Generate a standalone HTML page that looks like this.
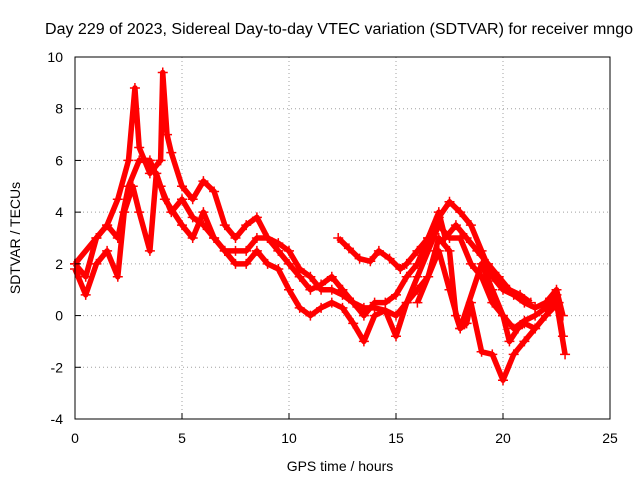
<!DOCTYPE html>
<html><head><meta charset="utf-8"><style>
html,body{margin:0;padding:0;background:#fff;}
svg{display:block;font-family:"Liberation Sans",sans-serif;}
</style></head><body>
<svg id="chart" width="640" height="480" viewBox="0 0 640 480" xmlns="http://www.w3.org/2000/svg">
<rect width="640" height="480" fill="#fff"/>
<text x="339" y="34" font-size="15.5" text-anchor="middle" textLength="588" lengthAdjust="spacingAndGlyphs">Day 229 of 2023, Sidereal Day-to-day VTEC variation (SDTVAR) for receiver mngo</text>
<g id="grid"></g>
<g id="series"></g>
<g id="axes"></g>
<text x="340" y="471" font-size="14" text-anchor="middle">GPS time / hours</text>
<text x="20" y="238" font-size="14" text-anchor="middle" transform="rotate(-90 20 238)">SDTVAR / TECUs</text>
</svg>
<script>
const xTicks = [0,5,10,15,20,25];
const yTicks = [-4,-2,0,2,4,6,8,10];
const trackATime = [0,0.5,1,1.5,2,2.5,2.8,3,3.5,4,4.1,4.3,4.5,5,5.5,6,6.5,7,7.5,8,8.5,9,9.5,10,10.5,11,11.5,12,12.5,13,13.5,14,14.5,15,15.5,16,16.5,17,17.5,18,18.5,19,19.5,20,20.5,21,21.5,22,22.5,22.8];
const trackAVal = [2,1.5,3,3.5,4.5,6,8.8,6.5,5.5,6,9.4,7,6.3,5,4.5,5.2,4.8,3.5,3,3.5,3.8,3,2.5,2,1.5,1,1.2,1.5,1,0.5,0,0.5,0.5,0.8,1.5,2,3,3.8,4.4,4,3.5,2.5,1.5,1,0.8,0.5,0.3,0.5,1,0];
const trackBTime = [0,0.5,1,1.5,2,2.3,2.7,3,3.5,3.8,4.2,5,5.5,6,6.5,7,7.5,8,8.5,9,9.5,10,10.5,11,11.5,12,12.5,13,13.5,14,14.5,15,15.5,16,16.5,17,17.5,18,18.3,18.5,19,19.5,20,20.5,21,21.5,22,22.5,22.9];
const trackBVal = [1.8,0.8,2,2.5,1.5,4,5,4,2.5,5.5,4.5,3.5,3,4,3,2.5,2,2,2.5,2,1.8,1,0.3,0,0.3,0.5,0.3,-0.3,-1,0,0.2,-0.8,0.5,1,1.5,2.5,1,-0.5,-0.3,0.5,-1.4,-1.5,-2.5,-1.5,-1,-0.5,0,0.5,-1.5];
const trackCTime = [0,1,1.5,2,2.5,3,3.5,4,4.5,5,5.5,6,6.5,7,7.5,8,8.5,9,9.5,10,10.5,11,11.5,12,12.5,13,13.5,14,14.5,15,15.5,16,16.5,17,17.5,18,18.5,19,19.5,20,20.5,21,21.5,22,22.5,22.8];
const trackCVal = [2,3,3.5,3,5,6,6,5,4,4.5,3.8,3.5,3,2.5,2.5,2.5,3,3,2.8,2.5,1.8,1.5,1,1,0.8,0.5,0.3,0.3,0.2,0,0.5,1.5,2.5,3.5,3,3,2,1.5,0.5,0,-0.5,-0.2,0,0.3,0.8,-0.8];
const trackDTime = [12.3,12.8,13.3,13.8,14.2,14.7,15.2,15.5,16,16.5,17,17.3,17.8,18.3,18.8,19.3,19.8,20.3,20.8,21.3];
const trackDVal = [3,2.6,2.2,2.1,2.5,2.2,1.8,2,2.5,3,4,3,3.5,3,2.5,2,1.5,1,0.8,0.5];
const trackETime = [16,16.5,17,17.5,17.8,18,19,19.5,20,20.3,20.7,21,21.5,22,22.6];
const trackEVal = [0.5,1.5,3,2.5,0,-0.5,2,1,0,-1,-0.5,-0.3,-0.5,0,0.5];

const L=75,R=610,T=57,B=419;
const sx=v=>L+(v-0)/25*(R-L);
const sy=v=>B-(v+4)/14*(B-T);
const NS="http://www.w3.org/2000/svg";
function mk(tag,attrs,parent){const e=document.createElementNS(NS,tag);for(const k in attrs)e.setAttribute(k,attrs[k]);parent.appendChild(e);return e;}
const grid=document.getElementById('grid'),axes=document.getElementById('axes'),series=document.getElementById('series');
xTicks.forEach(t=>{
  if(t>0&&t<25){const g=mk('line',{x1:sx(t),x2:sx(t),y1:T,y2:B,stroke:'#a0a0a0','stroke-dasharray':'1,3'},grid);
  
  }
  const tk=mk('line',{x1:sx(t),x2:sx(t),y1:B,y2:B-6,stroke:'#000'},axes);
  
  
  const lb=mk('text',{x:sx(t),y:B+24,'font-size':14,'text-anchor':'middle'},axes);lb.textContent=t;
  
  
});
yTicks.forEach(t=>{
  if(t>-4&&t<10){const g=mk('line',{x1:L,x2:R,y1:sy(t),y2:sy(t),stroke:'#a0a0a0','stroke-dasharray':'1,3'},grid);
  
  }
  const tk=mk('line',{x1:L,x2:L+6,y1:sy(t),y2:sy(t),stroke:'#000'},axes);
  
  
  const lb=mk('text',{x:L-12,y:sy(t)+5,'font-size':14,'text-anchor':'end'},axes);lb.textContent=t;
  
  
});
const frame=mk('rect',{x:L,y:T,width:R-L,height:B-T,fill:'none',stroke:'#000'},axes);


const tracks=[[trackATime,trackAVal],[trackBTime,trackBVal],[trackCTime,trackCVal],[trackDTime,trackDVal],[trackETime,trackEVal]];
tracks.forEach((tr,i)=>{
  const pts=tr[0].map((t,j)=>sx(t)+','+sy(tr[1][j])).join(' ');
  const pl=mk('polyline',{points:pts,fill:'none',stroke:'#ff0000','stroke-width':5.5,'stroke-linejoin':'round'},series);
  
  
  tr[0].forEach((t,j)=>{
    const x=sx(t),y=sy(tr[1][j]);
    const p=mk('path',{d:`M${x-5},${y}h10M${x},${y-5}v10`,stroke:'#ff0000','stroke-width':1.5},series);
    
    
  });
});
</script>
</body></html>
